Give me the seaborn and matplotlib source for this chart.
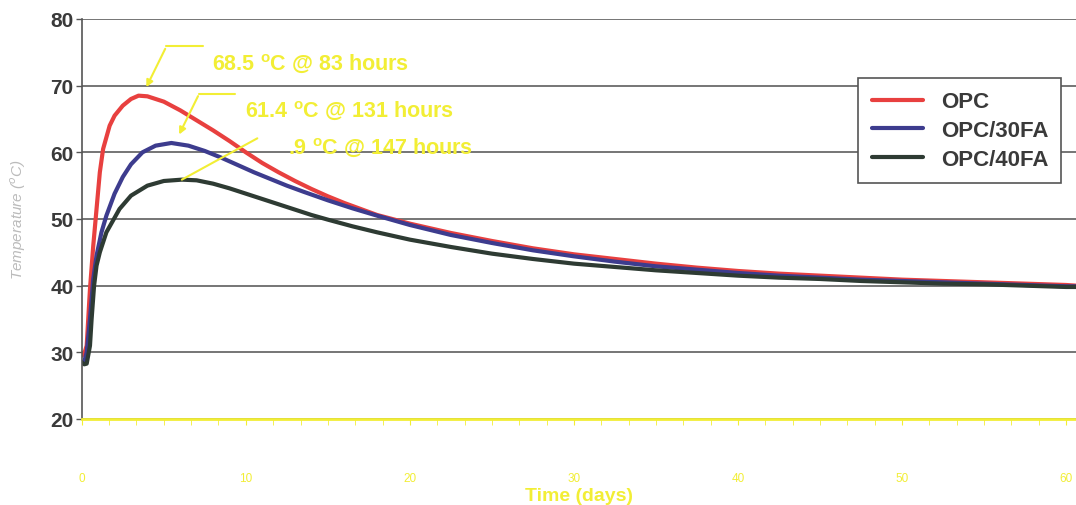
import numpy as np
import pandas as pd
import seaborn as sns
import matplotlib.pyplot as plt
from matplotlib.lines import Line2D

# Data (time in days, temperature in deg C)
opc_t = [0.0, 0.15, 0.3, 0.5, 0.7, 0.9, 1.1, 1.3, 1.7, 2.0, 2.5, 3.0, 3.46, 4.0, 5.0, 6.0, 7.0,
         8.0, 9.0, 10.0, 11.0, 12.0, 13.0, 14.0, 15.0, 16.0, 18.0, 20.0, 22.5, 25.0, 27.5, 30.0,
         32.5, 35.0, 37.5, 40.0, 42.5, 45.0, 47.5, 50.0, 52.5, 55.0, 57.5, 60.0, 60.6]
opc_T = [29.5, 29.8, 31.0, 39.5, 46.0, 51.5, 57.0, 60.5, 64.0, 65.5, 67.0, 68.0, 68.5, 68.4, 67.6,
         66.3, 64.8, 63.3, 61.7, 60.0, 58.4, 57.0, 55.7, 54.5, 53.4, 52.4, 50.6, 49.3, 47.9, 46.7,
         45.6, 44.7, 44.0, 43.3, 42.7, 42.2, 41.8, 41.5, 41.2, 40.9, 40.7, 40.5, 40.3, 40.1, 40.0]

fa30_t = [0.0, 0.15, 0.3, 0.5, 0.7, 0.9, 1.2, 1.5, 2.0, 2.5, 3.0, 3.7, 4.5, 5.46, 6.5, 7.5, 8.5,
          9.5, 10.5, 11.5, 12.5, 13.5, 15.0, 16.5, 18.0, 20.0, 22.5, 25.0, 27.5, 30.0, 32.5, 35.0,
          37.5, 40.0, 42.5, 45.0, 47.5, 50.0, 52.5, 55.0, 57.5, 60.0, 60.6]
fa30_T = [28.5, 28.6, 30.0, 35.0, 41.0, 44.5, 48.0, 50.5, 53.8, 56.3, 58.2, 60.0, 61.0, 61.4, 61.0,
          60.2, 59.2, 58.1, 57.0, 56.0, 55.0, 54.1, 52.8, 51.6, 50.5, 49.1, 47.6, 46.4, 45.3, 44.4,
          43.6, 42.9, 42.4, 41.9, 41.5, 41.2, 40.9, 40.7, 40.5, 40.3, 40.1, 39.9, 39.9]

fa40_t = [0.0, 0.15, 0.3, 0.5, 0.6, 0.75, 0.9, 1.1, 1.5, 2.3, 3.0, 4.0, 5.0, 6.1, 7.0, 8.0, 9.0,
          10.0, 11.0, 12.0, 13.0, 14.0, 15.0, 16.5, 18.0, 20.0, 22.5, 25.0, 27.5, 30.0, 32.5, 35.0,
          37.5, 40.0, 42.5, 45.0, 47.5, 50.0, 52.5, 55.0, 57.5, 60.0, 60.6]
fa40_T = [28.5, 28.2, 28.3, 31.0, 35.0, 40.0, 43.0, 45.0, 48.0, 51.5, 53.5, 55.0, 55.7, 55.9, 55.8,
          55.3, 54.6, 53.8, 53.0, 52.2, 51.4, 50.6, 49.9, 48.9, 48.0, 46.9, 45.8, 44.8, 44.0, 43.3,
          42.8, 42.3, 41.9, 41.5, 41.2, 41.0, 40.7, 40.5, 40.3, 40.2, 40.0, 39.8, 39.8]

series = ["OPC", "OPC/30FA", "OPC/40FA"]
colors = ["#e8403f", "#3d3c8e", "#2e3b33"]
peak_labels = ["68.5 $^{\\mathbf{o}}$C @ 83 hours",
               "61.4 $^{\\mathbf{o}}$C @ 131 hours",
               ".9 $^{\\mathbf{o}}$C @ 147 hours"]
yticks = [20, 30, 40, 50, 60, 70, 80]
xticks = [0, 10, 20, 30, 40, 50, 60]

df = pd.concat([
    pd.DataFrame({"t": opc_t, "T": opc_T, "mix": "OPC"}),
    pd.DataFrame({"t": fa30_t, "T": fa30_T, "mix": "OPC/30FA"}),
    pd.DataFrame({"t": fa40_t, "T": fa40_T, "mix": "OPC/40FA"}),
])

sns.set_style("white")
plt.rcParams["font.family"] = ["Liberation Sans", "DejaVu Sans"]
plt.rcParams["mathtext.fontset"] = "custom"
plt.rcParams["mathtext.bf"] = "Liberation Sans:bold"
plt.rcParams["mathtext.rm"] = "Liberation Sans"

yellow = "#f2ee35"
dark = "#3a3a3a"

fig = plt.figure(figsize=(10.76, 5.06), dpi=100)
ax = fig.add_axes([0.076, 0.17, 0.924, 0.7905])

sns.lineplot(data=df, x="t", y="T", hue="mix", palette=dict(zip(series, colors)),
             linewidth=3, legend=False, ax=ax, sort=False, estimator=None)

ax.set_xlim(0, 60.6)
ax.set_ylim(20, 80)
ax.set_yticks(yticks)
ax.set_xticks(xticks)
ax.set_xticks(np.arange(0, 60.6, 5 / 3), minor=True)
ax.yaxis.grid(True, color="#505050", linewidth=1.1)
ax.set_axisbelow(True)

for s in ["top", "right"]:
    ax.spines[s].set_visible(False)
ax.spines["left"].set_color("#555555")
ax.spines["left"].set_linewidth(1.2)
ax.spines["bottom"].set_color(yellow)
ax.spines["bottom"].set_linewidth(2)

ax.tick_params(axis="y", labelsize=15, labelcolor=dark, length=4, color="#555555", left=True,
               width=1, pad=2)
for lab in ax.get_yticklabels():
    lab.set_fontweight("bold")
ax.tick_params(axis="x", which="major", labelsize=8.5, labelcolor=yellow, length=4,
               color=yellow, bottom=True, pad=34)
ax.tick_params(axis="x", which="minor", length=4, color=yellow, bottom=True)

ax.set_xlabel("Time (days)", color=yellow, fontsize=14, fontweight="bold", labelpad=2)
ax.set_ylabel("Temperature ($^{o}$C)", color="#bbbbbb", fontsize=11, style="italic", labelpad=16)

# peak annotations, positioned relative to the peak of each curve
curves = [(opc_t, opc_T), (fa30_t, fa30_T), (fa40_t, fa40_T)]
for i, (tt, TT) in enumerate(curves):
    k = int(np.argmax(TT))
    tp, Tp = tt[k], TT[k]
    if i < 2:
        tip = (tp + 0.4, Tp + 0.9)
        kink = (tp + 1.7, Tp + 7.4)
        end = (tp + 3.9, Tp + 7.4)
        ax.plot([kink[0], end[0]], [kink[1], end[1]], color=yellow, lw=1.5)
        ax.annotate("", xy=tip, xytext=kink,
                    arrowprops=dict(arrowstyle="-|>", color=yellow, lw=1.5, mutation_scale=10))
        ax.text(end[0] + 0.6, kink[1] - 2.4, peak_labels[i], color=yellow,
                fontsize=15.5, fontweight="bold", va="center", ha="left")
    else:
        ax.plot([tp, tp + 4.6], [Tp, Tp + 6.2], color=yellow, lw=1.5)
        ax.text(tp + 6.5, Tp + 5.0, peak_labels[i], color=yellow,
                fontsize=15.5, fontweight="bold", va="center", ha="left")

handles = [Line2D([0], [0], color=c, lw=3) for c in colors]
leg = ax.legend(handles, series, loc="upper left", bbox_to_anchor=(0.77, 0.88),
                frameon=True, fancybox=False, edgecolor="#555555", framealpha=1,
                prop=dict(size=16, weight="bold"), labelspacing=0.35, handlelength=2.3,
                borderpad=0.6)
for txt in leg.get_texts():
    txt.set_color(dark)
leg.get_frame().set_linewidth(1.2)

fig.savefig("out.png", dpi=100)
